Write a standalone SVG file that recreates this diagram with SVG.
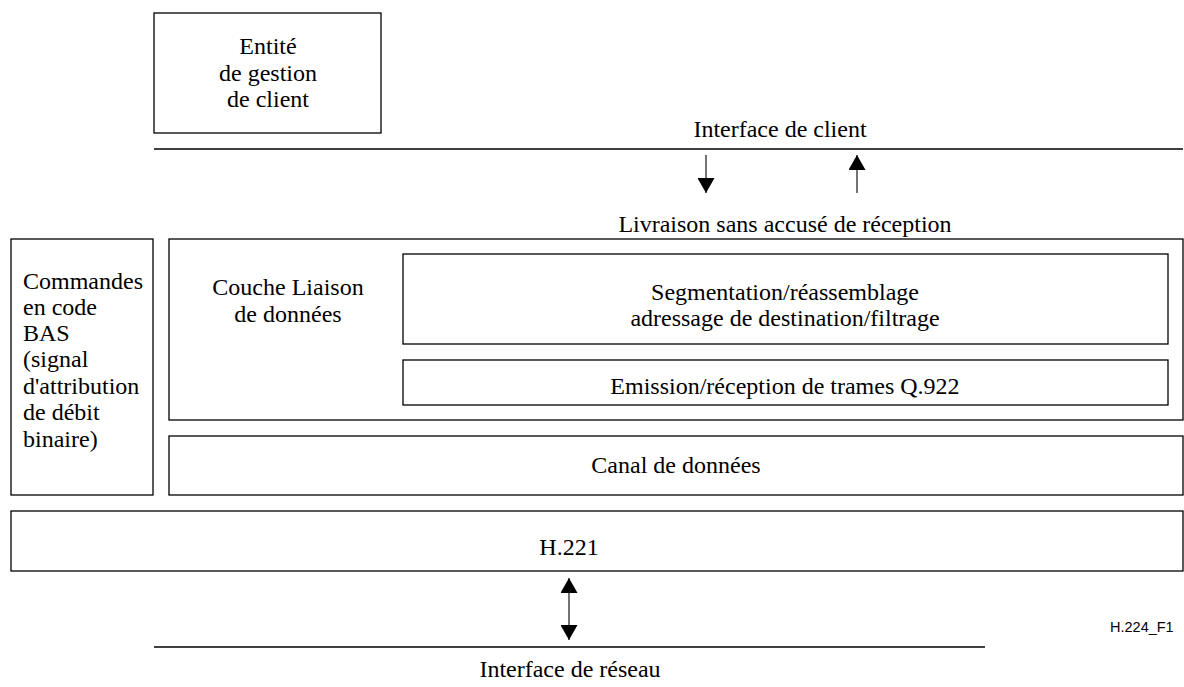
<svg xmlns="http://www.w3.org/2000/svg" width="1184" height="687" viewBox="0 0 1184 687">
<style>
.b{fill:none;stroke:#000;stroke-width:1.3}
.l{stroke:#000;stroke-width:1.3;fill:none}
.a{stroke:#000;stroke-width:1.1;fill:none}
.t{font-family:"Liberation Serif","Times New Roman",serif;font-size:24px;fill:#000}
.c{text-anchor:middle}
.s{font-family:"Liberation Sans",Arial,sans-serif;font-size:14.5px;fill:#000}
</style>
<defs>
<marker id="ah" viewBox="0 0 15 17" refX="15" refY="8.5" markerWidth="15" markerHeight="17" markerUnits="userSpaceOnUse" orient="auto-start-reverse">
<path d="M0,0 L15,8.5 L0,17 z" fill="#000"/>
</marker>
</defs>
<rect width="1184" height="687" fill="#fff"/>
<g id="entite">
<rect class="b" x="154" y="13" width="227" height="120"/>
<text class="t c" x="268" y="54">Entité</text>
<text class="t c" x="268" y="81">de gestion</text>
<text class="t c" x="268" y="107">de client</text>
</g>
<g id="interface-client">
<line class="l" x1="154" y1="149" x2="1183" y2="149"/>
<text class="t c" x="780" y="137">Interface de client</text>
</g>
<g id="livraison">
<text class="t c" x="785" y="232">Livraison sans accusé de réception</text>
</g>
<g id="commandes">
<rect class="b" x="11" y="239" width="142" height="256"/>
<text class="t" x="23" y="289">Commandes</text>
<text class="t" x="23" y="315">en code</text>
<text class="t" x="23" y="341">BAS</text>
<text class="t" x="23" y="367">(signal</text>
<text class="t" x="23" y="394">d'attribution</text>
<text class="t" x="23" y="420">de débit</text>
<text class="t" x="23" y="447">binaire)</text>
</g>
<g id="couche">
<rect class="b" x="169" y="239" width="1014" height="181"/>
<text class="t c" x="288" y="295">Couche Liaison</text>
<text class="t c" x="288" y="322">de données</text>
</g>
<g id="segmentation">
<rect class="b" x="403" y="254" width="765" height="90"/>
<text class="t c" x="785" y="300">Segmentation/réassemblage</text>
<text class="t c" x="785" y="326">adressage de destination/filtrage</text>
</g>
<g id="emission">
<rect class="b" x="403" y="360" width="765" height="45"/>
<text class="t c" x="785" y="394">Emission/réception de trames Q.922</text>
</g>
<g id="canal">
<rect class="b" x="169" y="436" width="1014" height="59"/>
<text class="t c" x="676" y="473">Canal de données</text>
</g>
<g id="h221">
<rect class="b" x="11" y="511" width="1172" height="60"/>
<text class="t c" x="569" y="555">H.221</text>
</g>
<g id="interface-reseau">
<line class="l" x1="154" y1="647" x2="985" y2="647"/>
<text class="t c" x="570" y="677">Interface de réseau</text>
</g>
<g id="connectors">
<line class="a" x1="706" y1="155" x2="706" y2="193" marker-end="url(#ah)"/>
<line class="a" x1="857" y1="193" x2="857" y2="155" marker-end="url(#ah)"/>
<line class="a" x1="569" y1="578" x2="569" y2="640" marker-start="url(#ah)" marker-end="url(#ah)"/>
</g>
<text class="s" x="1110" y="632">H.224_F1</text>
</svg>
